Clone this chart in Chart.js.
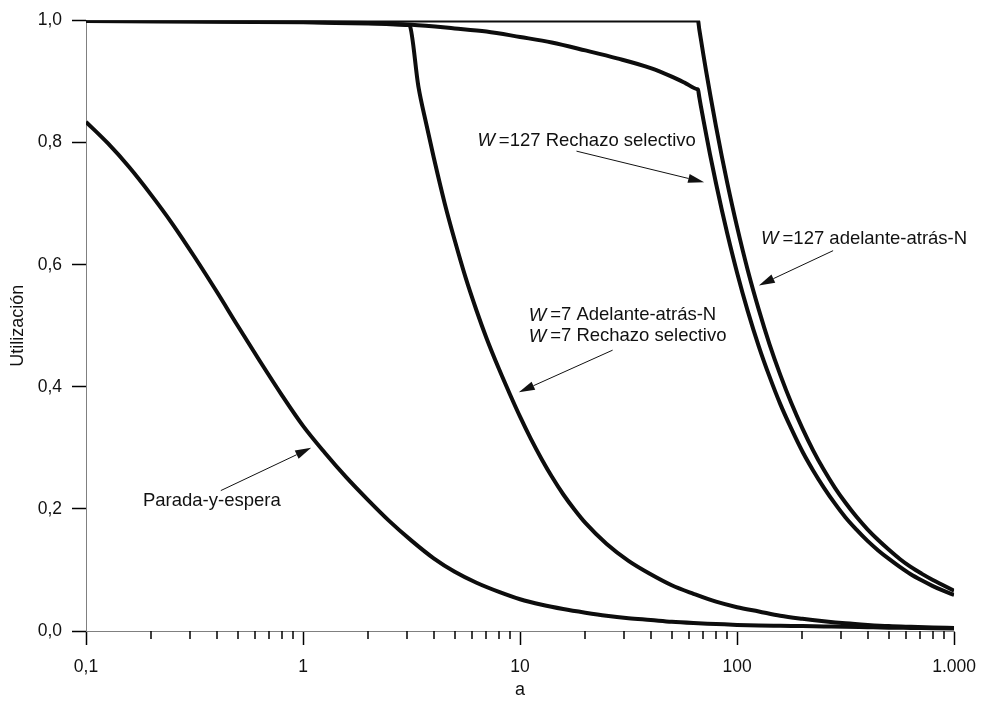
<!DOCTYPE html>
<html lang="es">
<head>
<meta charset="utf-8">
<title>Utilización</title>
<script src="https://cdn.jsdelivr.net/npm/chart.js@4.4.1/dist/chart.umd.min.js"></script>
<style>
  html, body { margin: 0; padding: 0; background: #fff; }
  canvas { display: block; }
</style>
</head>
<body>
<canvas id="utilChart" width="988" height="702"></canvas>
<script>
// values (a on a log axis, U = utilización)
const aParada = [0.1, 0.126, 0.158, 0.2, 0.25, 0.316, 0.4, 0.5, 0.63, 0.8, 1, 1.26, 1.58, 2, 2.5, 3.16, 4, 5, 6.3, 8,
  10, 12.6, 15.8, 20, 25, 31.6, 40, 50, 63, 80, 100, 126, 158, 200, 251, 316, 400, 500, 631, 800, 1000];
const uParada = [0.834, 0.799, 0.760, 0.714, 0.667, 0.613, 0.556, 0.500, 0.443, 0.386, 0.336, 0.292, 0.252, 0.214, 0.180, 0.148, 0.119, 0.097, 0.079, 0.064,
  0.052, 0.043, 0.036, 0.030, 0.025, 0.021, 0.018, 0.015, 0.013, 0.0115, 0.010, 0.009, 0.0085, 0.008, 0.0075, 0.007, 0.0062, 0.0055, 0.005, 0.0045, 0.004];

const aW7 = [0.1, 1, 2, 3.08, 3.1, 3.4, 3.7, 4, 4.5, 5, 5.6, 6.3, 7, 8, 9, 10, 11.2, 12.6, 14, 15.8, 17.8, 20, 25, 31.6, 40, 50, 63, 80,
  100, 126, 158, 200, 251, 316, 400, 500, 631, 800, 1000];
const uW7 = [0.999, 0.997, 0.995, 0.9925, 0.992, 0.892, 0.830, 0.776, 0.700, 0.640, 0.580, 0.525, 0.480, 0.429, 0.387, 0.351, 0.315, 0.281, 0.253, 0.224, 0.199, 0.177, 0.143, 0.115, 0.093, 0.075, 0.061, 0.048,
  0.039, 0.032, 0.025, 0.020, 0.016, 0.0126, 0.010, 0.008, 0.0068, 0.0058, 0.005];

// W=127 curve that stays at 1,0 up to a ~ 66
const aW127top = [0.1, 10, 66, 67, 68, 70, 72, 75, 80, 85, 90, 100, 112, 126, 141, 158, 178, 200, 224, 251, 282, 316, 355, 398, 447, 501, 562, 631, 708, 794, 891, 1000];
const uW127top = [1.0, 1.0, 1.0, 0.985, 0.971, 0.943, 0.917, 0.881, 0.826, 0.778, 0.735, 0.662, 0.591, 0.526, 0.470, 0.420, 0.373, 0.332, 0.296, 0.264, 0.235, 0.210, 0.187, 0.167, 0.149, 0.133, 0.118, 0.105, 0.094, 0.084, 0.075, 0.066];

// W=127 curve that slowly bends down to ~0,89 at a ~ 66
const aW127low = [0.1, 0.3, 1, 2, 3.16, 5, 7, 10, 14, 20, 28, 40, 50, 58, 65.5, 66, 67, 68, 70, 72, 75, 80, 85, 90, 100, 112, 126, 141, 158, 178, 200, 224, 251, 282, 316, 355, 398, 447, 501, 562, 631, 708, 794, 891, 1000];
const uW127low = [0.999, 0.999, 0.998, 0.996, 0.993, 0.987, 0.982, 0.973, 0.964, 0.951, 0.938, 0.922, 0.908, 0.897, 0.8875, 0.887, 0.874, 0.861, 0.837, 0.814, 0.781, 0.733, 0.690, 0.652, 0.587, 0.524, 0.466, 0.417, 0.372, 0.331, 0.294, 0.263, 0.235, 0.209, 0.186, 0.166, 0.148, 0.132, 0.118, 0.105, 0.093, 0.083, 0.074, 0.066, 0.059];

const xMajorTicks = [0.1, 1, 10, 100, 1000];
const xTickLabels = ['0,1', '1', '10', '100', '1.000'];
const xMinorTicks = [0.2, 0.3, 0.4, 0.5, 0.6, 0.7, 0.8, 0.9, 2, 3, 4, 5, 6, 7, 8, 9,
  20, 30, 40, 50, 60, 70, 80, 90, 200, 300, 400, 500, 600, 700, 800, 900];
const yTicks = [0, 0.2, 0.4, 0.6, 0.8, 1.0];
const yTickLabels = ['0,0', '0,2', '0,4', '0,6', '0,8', '1,0'];

// annotations, placed in data space (a, U)
const notes = [
  { lines: ['W =127 Rechazo selectivo'], at: [6.36, 0.803], from: [18.2, 0.786], to: [70.5, 0.735] },
  { lines: ['W =127 adelante-atrás-N'], at: [129, 0.642], from: [277, 0.623], to: [126, 0.566] },
  { lines: ['W =7 Adelante-atrás-N', 'W =7 Rechazo selectivo'], at: [10.96, 0.517], from: [26.7, 0.460], to: [9.87, 0.391] },
  { lines: ['Parada-y-espera'], at: [0.183, 0.213], from: [0.418, 0.230], to: [1.09, 0.300] },
];

const FONT = '"Liberation Sans", Arial, Helvetica, sans-serif';
Chart.defaults.font.family = FONT;
Chart.defaults.color = '#111';

const pairs = (xs, ys) => xs.map((x, i) => ({ x: x, y: ys[i] }));

function curve(label, xs, ys) {
  return {
    label: label,
    data: pairs(xs, ys),
    borderColor: '#0d0d0d',
    borderWidth: 4,
    pointRadius: 0,
    fill: false,
    cubicInterpolationMode: 'monotone',
    borderJoinStyle: 'round',
  };
}

function drawRich(ctx, text, x, y) {
  if (text.startsWith('W ')) {
    ctx.font = 'italic 18.5px ' + FONT;
    ctx.fillText('W', x, y);
    const w = ctx.measureText('W').width;
    ctx.font = '18.5px ' + FONT;
    ctx.fillText(text.slice(2), x + w + 4, y);
  } else {
    ctx.font = '18.5px ' + FONT;
    ctx.fillText(text, x, y);
  }
}

function arrow(ctx, x1, y1, x2, y2) {
  const ang = Math.atan2(y2 - y1, x2 - x1);
  const len = 16, half = 4.5;
  const bx = x2 - len * Math.cos(ang), by = y2 - len * Math.sin(ang);
  ctx.lineWidth = 1;
  ctx.beginPath();
  ctx.moveTo(x1, y1);
  ctx.lineTo(bx, by);
  ctx.stroke();
  ctx.beginPath();
  ctx.moveTo(x2, y2);
  ctx.lineTo(bx + half * Math.sin(ang), by - half * Math.cos(ang));
  ctx.lineTo(bx - half * Math.sin(ang), by + half * Math.cos(ang));
  ctx.closePath();
  ctx.fill();
}

const extras = {
  id: 'extras',
  afterDraw(chart) {
    const { ctx, scales: { x, y } } = chart;
    ctx.save();
    // short minor ticks on the log axis
    ctx.strokeStyle = '#000';
    ctx.lineWidth = 1.5;
    ctx.beginPath();
    xMinorTicks.forEach(v => {
      const px = Math.round(x.getPixelForValue(v));
      ctx.moveTo(px, y.bottom);
      ctx.lineTo(px, y.bottom + 8);
    });
    ctx.stroke();

    ctx.fillStyle = '#111';
    ctx.strokeStyle = '#111';
    ctx.textAlign = 'left';
    ctx.textBaseline = 'middle';
    notes.forEach(n => {
      const tx = x.getPixelForValue(n.at[0]);
      const ty = y.getPixelForValue(n.at[1]);
      n.lines.forEach((line, i) => drawRich(ctx, line, tx, ty + i * 21));
      arrow(ctx,
        x.getPixelForValue(n.from[0]), y.getPixelForValue(n.from[1]),
        x.getPixelForValue(n.to[0]), y.getPixelForValue(n.to[1]));
    });
    ctx.restore();
  }
};

new Chart(document.getElementById('utilChart').getContext('2d'), {
  type: 'line',
  data: {
    datasets: [
      curve('Parada-y-espera', aParada, uParada),
      curve('W=7', aW7, uW7),
      curve('W=127 (1,0)', aW127top, uW127top),
      curve('W=127', aW127low, uW127low),
    ],
  },
  options: {
    responsive: false,
    animation: false,
    layout: { padding: { top: 16, right: 28, bottom: 0, left: 0 } },
    plugins: {
      legend: { display: false },
      tooltip: { enabled: false },
    },
    scales: {
      x: {
        type: 'logarithmic',
        min: 0.1,
        max: 1000,
        afterBuildTicks: (scale) => { scale.ticks = xMajorTicks.map(v => ({ value: v })); },
        afterFit: (scale) => { scale.height = 71; },
        ticks: {
          autoSkip: false,
          maxRotation: 0,
          minRotation: 0,
          padding: 12,
          color: '#111',
          font: { size: 17.5 },
          callback: (value) => xTickLabels[xMajorTicks.indexOf(value)],
        },
        grid: {
          drawOnChartArea: false,
          drawTicks: true,
          tickLength: 14,
          tickColor: '#000',
          tickWidth: 1.5,
        },
        border: { display: true, color: '#808080', width: 1 },
        title: {
          display: true,
          text: 'a',
          color: '#111',
          font: { size: 18 },
          padding: { top: 0, bottom: 1 },
        },
      },
      y: {
        type: 'linear',
        min: 0,
        max: 1,
        afterBuildTicks: (scale) => { scale.ticks = yTicks.map(v => ({ value: v })); },
        afterFit: (scale) => { scale.width = 86; },
        ticks: {
          padding: 10,
          color: '#111',
          font: { size: 17.5 },
          callback: (value) => yTickLabels[Math.round(value * 5)],
        },
        grid: {
          drawOnChartArea: false,
          drawTicks: true,
          tickLength: 14,
          tickColor: '#000',
          tickWidth: 1.5,
        },
        border: { display: true, color: '#808080', width: 1 },
        title: {
          display: true,
          text: 'Utilización',
          color: '#111',
          font: { size: 18 },
          padding: { top: 7.5, bottom: 0 },
        },
      },
    },
  },
  plugins: [extras],
});
</script>
</body>
</html>
